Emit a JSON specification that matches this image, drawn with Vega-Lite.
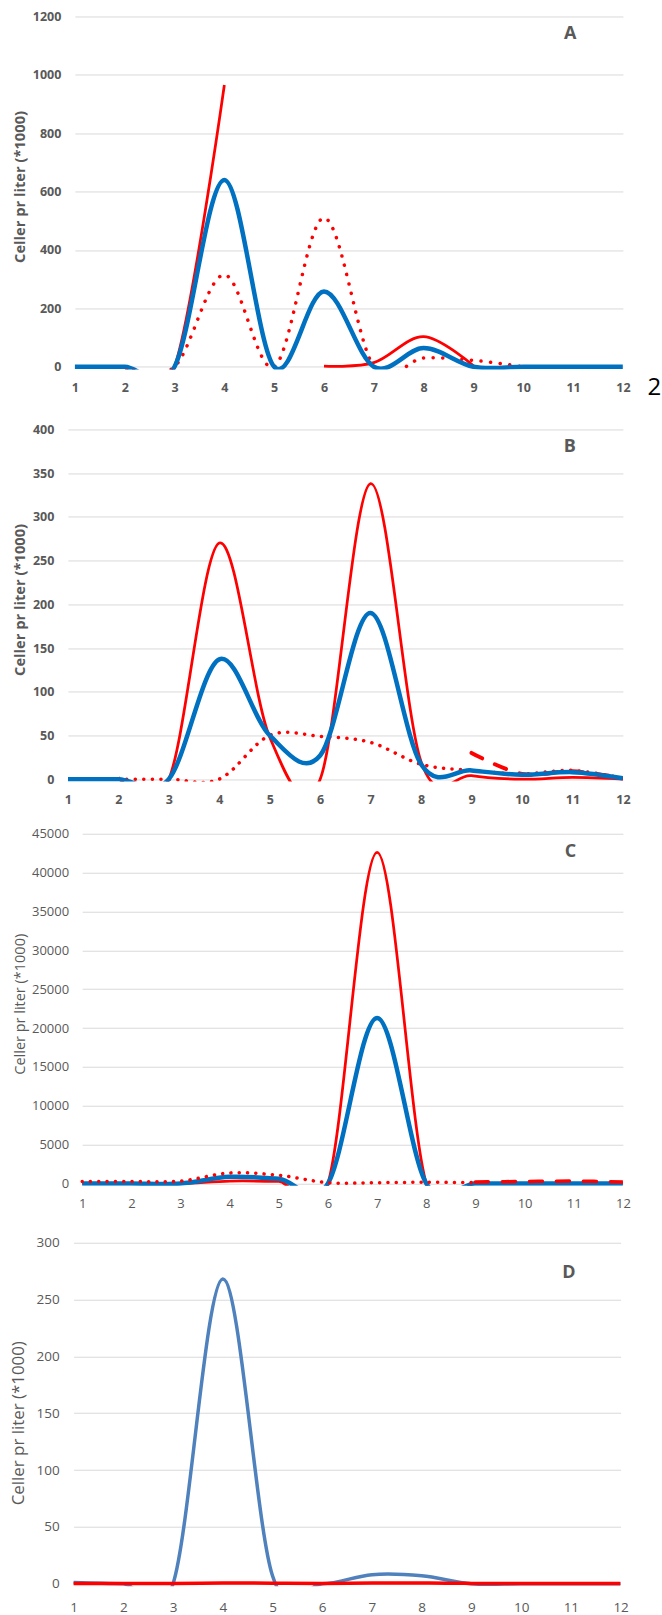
{
  "$schema": "https://vega.github.io/schema/vega-lite/v6.json",
  "padding": {"left": 9.9, "top": 10.45, "right": 0, "bottom": 0},
  "background": "white",
  "config": {"view": {"stroke": null}, "font": "Open Sans", "axis": {"labelOverlap": false}},
  "datasets": {
    "A": [
      {"m":1,"v":0,"s":"blue"},{"m":2,"v":0,"s":"blue"},{"m":3,"v":0,"s":"blue"},{"m":4,"v":640,"s":"blue"},{"m":5,"v":0,"s":"blue"},{"m":6,"v":258,"s":"blue"},{"m":7,"v":0,"s":"blue"},{"m":8,"v":64,"s":"blue"},{"m":9,"v":0,"s":"blue"},{"m":10,"v":0,"s":"blue"},{"m":11,"v":0,"s":"blue"},{"m":12,"v":0,"s":"blue"},
      {"m":2,"v":0,"s":"red","g":1},{"m":3,"v":0,"s":"red","g":1},{"m":4,"v":965,"s":"red","g":1},
      {"m":6,"v":2,"s":"red","g":2},{"m":7,"v":14,"s":"red","g":2},{"m":8,"v":103,"s":"red","g":2},{"m":9,"v":3,"s":"red","g":2},
      {"m":2,"v":0,"s":"dot"},{"m":3,"v":0,"s":"dot"},{"m":4,"v":315,"s":"dot"},{"m":5,"v":0,"s":"dot"},{"m":6,"v":510,"s":"dot"},{"m":7,"v":0,"s":"dot"},{"m":8,"v":30,"s":"dot"},{"m":9,"v":22,"s":"dot"},{"m":10,"v":0,"s":"dot"}
    ],
    "B": [
      {"m":1,"v":0,"s":"blue"},{"m":2,"v":0,"s":"blue"},{"m":3,"v":0,"s":"blue"},{"m":4,"v":137,"s":"blue"},{"m":5,"v":50,"s":"blue"},{"m":6,"v":27,"s":"blue"},{"m":7,"v":190,"s":"blue"},{"m":8,"v":17,"s":"blue"},{"m":9,"v":10,"s":"blue"},{"m":10,"v":5,"s":"blue"},{"m":11,"v":8,"s":"blue"},{"m":12,"v":1,"s":"blue"},
      {"m":2,"v":2,"s":"red"},{"m":3,"v":0,"s":"red"},{"m":4,"v":270,"s":"red"},{"m":5,"v":48,"s":"red"},{"m":6,"v":0,"s":"red"},{"m":7,"v":338,"s":"red"},{"m":8,"v":20,"s":"red"},{"m":9,"v":4,"s":"red"},{"m":10,"v":0,"s":"red"},{"m":11,"v":2,"s":"red"},{"m":12,"v":0,"s":"red"},
      {"m":2,"v":0,"s":"dot"},{"m":3,"v":0,"s":"dot"},{"m":4,"v":0,"s":"dot"},{"m":5,"v":50,"s":"dot"},{"m":6,"v":49,"s":"dot"},{"m":7,"v":42,"s":"dot"},{"m":8,"v":17,"s":"dot"},{"m":9,"v":10,"s":"dot"},{"m":10,"v":6,"s":"dot"},{"m":11,"v":10,"s":"dot"},{"m":12,"v":1,"s":"dot"},
      {"m":9,"v":30,"s":"dash"},{"m":10,"v":6,"s":"dash"},{"m":11,"v":9,"s":"dash"},{"m":12,"v":1,"s":"dash"}
    ],
    "C": [
      {"m":1,"v":0,"s":"blue"},{"m":2,"v":0,"s":"blue"},{"m":3,"v":0,"s":"blue"},{"m":4,"v":850,"s":"blue"},{"m":5,"v":600,"s":"blue"},{"m":6,"v":0,"s":"blue"},{"m":7,"v":21300,"s":"blue"},{"m":8,"v":0,"s":"blue"},{"m":9,"v":0,"s":"blue"},{"m":10,"v":0,"s":"blue"},{"m":11,"v":0,"s":"blue"},{"m":12,"v":0,"s":"blue"},
      {"m":1,"v":0,"s":"red"},{"m":2,"v":0,"s":"red"},{"m":3,"v":0,"s":"red"},{"m":4,"v":300,"s":"red"},{"m":5,"v":250,"s":"red"},{"m":6,"v":0,"s":"red"},{"m":7,"v":42600,"s":"red"},{"m":8,"v":0,"s":"red"},{"m":9,"v":0,"s":"red"},{"m":10,"v":0,"s":"red"},{"m":11,"v":0,"s":"red"},{"m":12,"v":0,"s":"red"},
      {"m":1,"v":250,"s":"dot"},{"m":2,"v":250,"s":"dot"},{"m":3,"v":300,"s":"dot"},{"m":4,"v":1350,"s":"dot"},{"m":5,"v":1050,"s":"dot"},{"m":6,"v":100,"s":"dot"},{"m":7,"v":100,"s":"dot"},{"m":8,"v":150,"s":"dot"},{"m":9,"v":100,"s":"dot"},
      {"m":9,"v":200,"s":"dash"},{"m":10,"v":250,"s":"dash"},{"m":11,"v":300,"s":"dash"},{"m":12,"v":200,"s":"dash"}
    ],
    "D": [
      {"m":1,"v":1,"s":"blue"},{"m":2,"v":0,"s":"blue"},{"m":3,"v":0,"s":"blue"},{"m":4,"v":268,"s":"blue"},{"m":5,"v":7,"s":"blue"},{"m":6,"v":0,"s":"blue"},{"m":7,"v":8,"s":"blue"},{"m":8,"v":7,"s":"blue"},{"m":9,"v":0,"s":"blue"},{"m":10,"v":0,"s":"blue"},{"m":11,"v":0,"s":"blue"},{"m":12,"v":0,"s":"blue"},
      {"m":1,"v":0.3,"s":"red"},{"m":2,"v":0.3,"s":"red"},{"m":3,"v":0.2,"s":"red"},{"m":4,"v":0.6,"s":"red"},{"m":5,"v":0.5,"s":"red"},{"m":6,"v":0.3,"s":"red"},{"m":7,"v":0.6,"s":"red"},{"m":8,"v":0.6,"s":"red"},{"m":9,"v":0.3,"s":"red"},{"m":10,"v":0.3,"s":"red"},{"m":11,"v":0.3,"s":"red"},{"m":12,"v":0.3,"s":"red"}
    ]
  },
  "columns": 1,
  "spacing": 23,
  "concat": [
    {
      "width": 555,
      "height": 353,
      "layer": [
        {
          "data": {"name": "A"},
          "encoding": {
            "x": {"field": "m", "type": "quantitative", "scale": {"domain": [1, 12], "range": [7, 555], "nice": false, "zero": false},
              "axis": {"title": null, "values": [1,2,3,4,5,6,7,8,9,10,11,12], "format": "d", "grid": false, "domain": false, "ticks": false, "labelFlush": false, "labelOverlap": false, "labelPadding": 12.3, "labelFont": "Open Sans", "labelFontSize": 12.5, "labelFontWeight": "bold", "labelColor": "#595959"}},
            "y": {"field": "v", "type": "quantitative", "scale": {"domain": [-9.25, 1200], "nice": false, "zero": false},
              "axis": {"title": "Celler pr liter (*1000)", "values": [0,200,400,600,800,1000,1200], "format": "d", "grid": true, "gridColor": "#D9D9D9", "gridWidth": 1, "domain": false, "ticks": false, "labelFlush": false, "labelOverlap": false, "labelPadding": 7, "labelFont": "Open Sans", "labelFontSize": 12.5, "labelFontWeight": "bold", "labelColor": "#595959", "titleFont": "Open Sans", "titleFontSize": 14.7, "titleFontWeight": "bold", "titleColor": "#595959", "titlePadding": 0, "titleY": 170, "minExtent": 40, "maxExtent": 40}}
          },
          "layer": [
            {"transform": [{"filter": "datum.s === 'red'"}], "mark": {"type": "line", "color": "#FF0000", "strokeWidth": 2.75, "interpolate": "cardinal", "tension": 0, "clip": true}, "encoding": {"detail": {"field": "g"}}},
            {"transform": [{"filter": "datum.s === 'dot'"}], "mark": {"type": "line", "color": "#FF0000", "strokeWidth": 3.5, "strokeCap": "round", "strokeDash": [0.1, 9.5], "interpolate": "cardinal", "tension": 0, "clip": true}, "encoding": {}},
            {"transform": [{"filter": "datum.s === 'blue'"}], "mark": {"type": "line", "color": "#0070C0", "strokeWidth": 4.5, "interpolate": "cardinal", "tension": 0, "clip": true}, "encoding": {}}
          ]
        },
        {"data": {"values": [{}]},
          "mark": {"type": "text", "font": "Open Sans", "fontSize": 18, "fontWeight": "bold", "color": "#595959", "align": "center", "baseline": "middle"},
          "encoding": {"x": {"datum": 10.94, "type": "quantitative"}, "y": {"datum": 1141, "type": "quantitative"}, "text": {"value": "A"}}},
        {"data": {"values": [{}]},
          "mark": {"type": "text", "font": "Open Sans", "fontSize": 24, "color": "#000000", "align": "center", "baseline": "middle"},
          "encoding": {"x": {"datum": 12.63, "type": "quantitative"}, "y": {"datum": -72, "type": "quantitative"}, "text": {"value": "2"}}}
      ]
    },
    {
      "columns": 1,
      "spacing": 21.3,
      "concat": [
        {
          "width": 555,
          "height": 352,
          "layer": [
            {
              "data": {"name": "B"},
              "encoding": {
                "x": {"field": "m", "type": "quantitative", "scale": {"domain": [1, 12], "range": [0, 555], "nice": false, "zero": false},
                  "axis": {"title": null, "values": [1,2,3,4,5,6,7,8,9,10,11,12], "format": "d", "grid": false, "domain": false, "ticks": false, "labelFlush": false, "labelOverlap": false, "labelPadding": 11.7, "labelFont": "Open Sans", "labelFontSize": 12.5, "labelFontWeight": "bold", "labelColor": "#595959"}},
                "y": {"field": "v", "type": "quantitative", "scale": {"domain": [-2.63, 400], "nice": false, "zero": false},
                  "axis": {"title": "Celler pr liter (*1000)", "values": [0,50,100,150,200,250,300,350,400], "format": "d", "grid": true, "gridColor": "#D9D9D9", "gridWidth": 1, "domain": false, "ticks": false, "labelFlush": false, "labelOverlap": false, "labelPadding": 14, "labelFont": "Open Sans", "labelFontSize": 12.5, "labelFontWeight": "bold", "labelColor": "#595959", "titleFont": "Open Sans", "titleFontSize": 14.7, "titleFontWeight": "bold", "titleColor": "#595959", "titlePadding": 0, "titleY": 170, "minExtent": 40, "maxExtent": 40}}
              },
              "layer": [
                {"transform": [{"filter": "datum.s === 'red'"}], "mark": {"type": "line", "color": "#FF0000", "strokeWidth": 2.75, "interpolate": "cardinal", "tension": 0, "clip": true}, "encoding": {}},
                {"transform": [{"filter": "datum.s === 'dot'"}], "mark": {"type": "line", "color": "#FF0000", "strokeWidth": 3.5, "strokeCap": "round", "strokeDash": [0.1, 8.4], "interpolate": "cardinal", "tension": 0, "clip": true}, "encoding": {}},
                {"transform": [{"filter": "datum.s === 'dash'"}], "mark": {"type": "line", "color": "#FF0000", "strokeWidth": 4, "strokeCap": "round", "strokeDash": [12, 14], "interpolate": "cardinal", "tension": 0, "clip": true}, "encoding": {}},
                {"transform": [{"filter": "datum.s === 'blue'"}], "mark": {"type": "line", "color": "#0070C0", "strokeWidth": 4.5, "interpolate": "cardinal", "tension": 0, "clip": true}, "encoding": {}}
              ]
            },
            {"data": {"values": [{}]},
              "mark": {"type": "text", "font": "Open Sans", "fontSize": 18, "fontWeight": "bold", "color": "#595959", "align": "center", "baseline": "middle"},
              "encoding": {"x": {"datum": 10.95, "type": "quantitative"}, "y": {"datum": 380, "type": "quantitative"}, "text": {"value": "B"}}}
          ]
        },
        {
          "columns": 1,
          "spacing": 25,
          "concat": [
            {
              "width": 555,
              "height": 352,
              "data": {"name": "C"},
              "encoding": {
                "x": {"field": "m", "type": "quantitative", "scale": {"domain": [1, 12], "range": [14.3, 555], "nice": false, "zero": false},
                  "axis": {"title": "C", "titleX": 502, "titleY": -334.3, "titleAlign": "center", "titleBaseline": "middle", "titleAngle": 0, "titleFont": "Open Sans", "titleFontSize": 18, "titleFontWeight": "bold", "titleColor": "#595959", "values": [1,2,3,4,5,6,7,8,9,10,11,12], "format": "d", "grid": false, "domain": false, "ticks": false, "labelFlush": false, "labelOverlap": false, "labelPadding": 11.6, "labelFont": "Open Sans", "labelFontSize": 13, "labelColor": "#595959"}},
                "y": {"field": "v", "type": "quantitative", "scale": {"domain": [-296, 45000], "nice": false, "zero": false},
                  "axis": {"title": "Celler pr liter (*1000)", "values": [0,5000,10000,15000,20000,25000,30000,35000,40000,45000], "format": "d", "grid": true, "gridColor": "#D9D9D9", "gridWidth": 1, "domain": false, "ticks": false, "labelFlush": false, "labelOverlap": false, "labelPadding": -0.7, "labelFont": "Open Sans", "labelFontSize": 13, "labelColor": "#595959", "titleFont": "Open Sans", "titleFontSize": 14.5, "titleFontWeight": "normal", "titleColor": "#595959", "titlePadding": 0, "titleY": 170, "minExtent": 40, "maxExtent": 40}}
              },
              "layer": [
                {"transform": [{"filter": "datum.s === 'red'"}], "mark": {"type": "line", "color": "#FF0000", "strokeWidth": 2.75, "interpolate": "cardinal", "tension": 0, "clip": true}, "encoding": {}},
                {"transform": [{"filter": "datum.s === 'blue'"}], "mark": {"type": "line", "color": "#0070C0", "strokeWidth": 4.5, "interpolate": "cardinal", "tension": 0, "clip": true}, "encoding": {}},
                {"transform": [{"filter": "datum.s === 'dot'"}], "mark": {"type": "line", "color": "#FF0000", "strokeWidth": 3.5, "strokeCap": "round", "strokeDash": [0.1, 8.2], "interpolate": "cardinal", "tension": 0, "clip": true}, "encoding": {}},
                {"transform": [{"filter": "datum.s === 'dash'"}], "mark": {"type": "line", "color": "#FF0000", "strokeWidth": 3.5, "strokeCap": "round", "strokeDash": [13, 14], "interpolate": "cardinal", "tension": 0, "clip": true}, "encoding": {}}
              ]
            },
            {
              "width": 552.7,
              "height": 343.5,
              "layer": [
                {
                  "data": {"name": "D"},
                  "encoding": {
                    "x": {"field": "m", "type": "quantitative", "scale": {"domain": [1, 12], "range": [5.7, 552.7], "nice": false, "zero": false},
                      "axis": {"title": null, "values": [1,2,3,4,5,6,7,8,9,10,11,12], "format": "d", "grid": false, "domain": false, "ticks": false, "labelFlush": false, "labelOverlap": false, "labelPadding": 14, "labelFont": "Open Sans", "labelFontSize": 13.5, "labelColor": "#595959"}},
                    "y": {"field": "v", "type": "quantitative", "scale": {"domain": [-2.2, 300], "nice": false, "zero": false},
                      "axis": {"title": "Celler pr liter (*1000)", "values": [0,50,100,150,200,250,300], "format": "d", "grid": true, "gridColor": "#D9D9D9", "gridWidth": 1, "domain": false, "ticks": false, "labelFlush": false, "labelOverlap": false, "labelPadding": 8.7, "labelFont": "Open Sans", "labelFontSize": 13.5, "labelColor": "#595959", "titleFont": "Open Sans", "titleFontSize": 16.9, "titleFontWeight": "normal", "titleColor": "#595959", "titlePadding": 0, "titleY": 180, "minExtent": 40, "maxExtent": 40}}
                  },
                  "layer": [
                    {"transform": [{"filter": "datum.s === 'blue'"}], "mark": {"type": "line", "color": "#4F81BD", "strokeWidth": 3.5, "interpolate": "cardinal", "tension": 0, "clip": true}, "encoding": {}},
                    {"transform": [{"filter": "datum.s === 'red'"}], "mark": {"type": "line", "color": "#FF0000", "strokeWidth": 3.5, "interpolate": "cardinal", "tension": 0, "clip": true}, "encoding": {}}
                  ]
                },
                {"data": {"values": [{}]},
                  "mark": {"type": "text", "font": "Open Sans", "fontSize": 18, "fontWeight": "bold", "color": "#595959", "align": "center", "baseline": "middle"},
                  "encoding": {"x": {"datum": 10.96, "type": "quantitative"}, "y": {"datum": 273, "type": "quantitative"}, "text": {"value": "D"}}}
              ]
            }
          ]
        }
      ]
    }
  ]
}
